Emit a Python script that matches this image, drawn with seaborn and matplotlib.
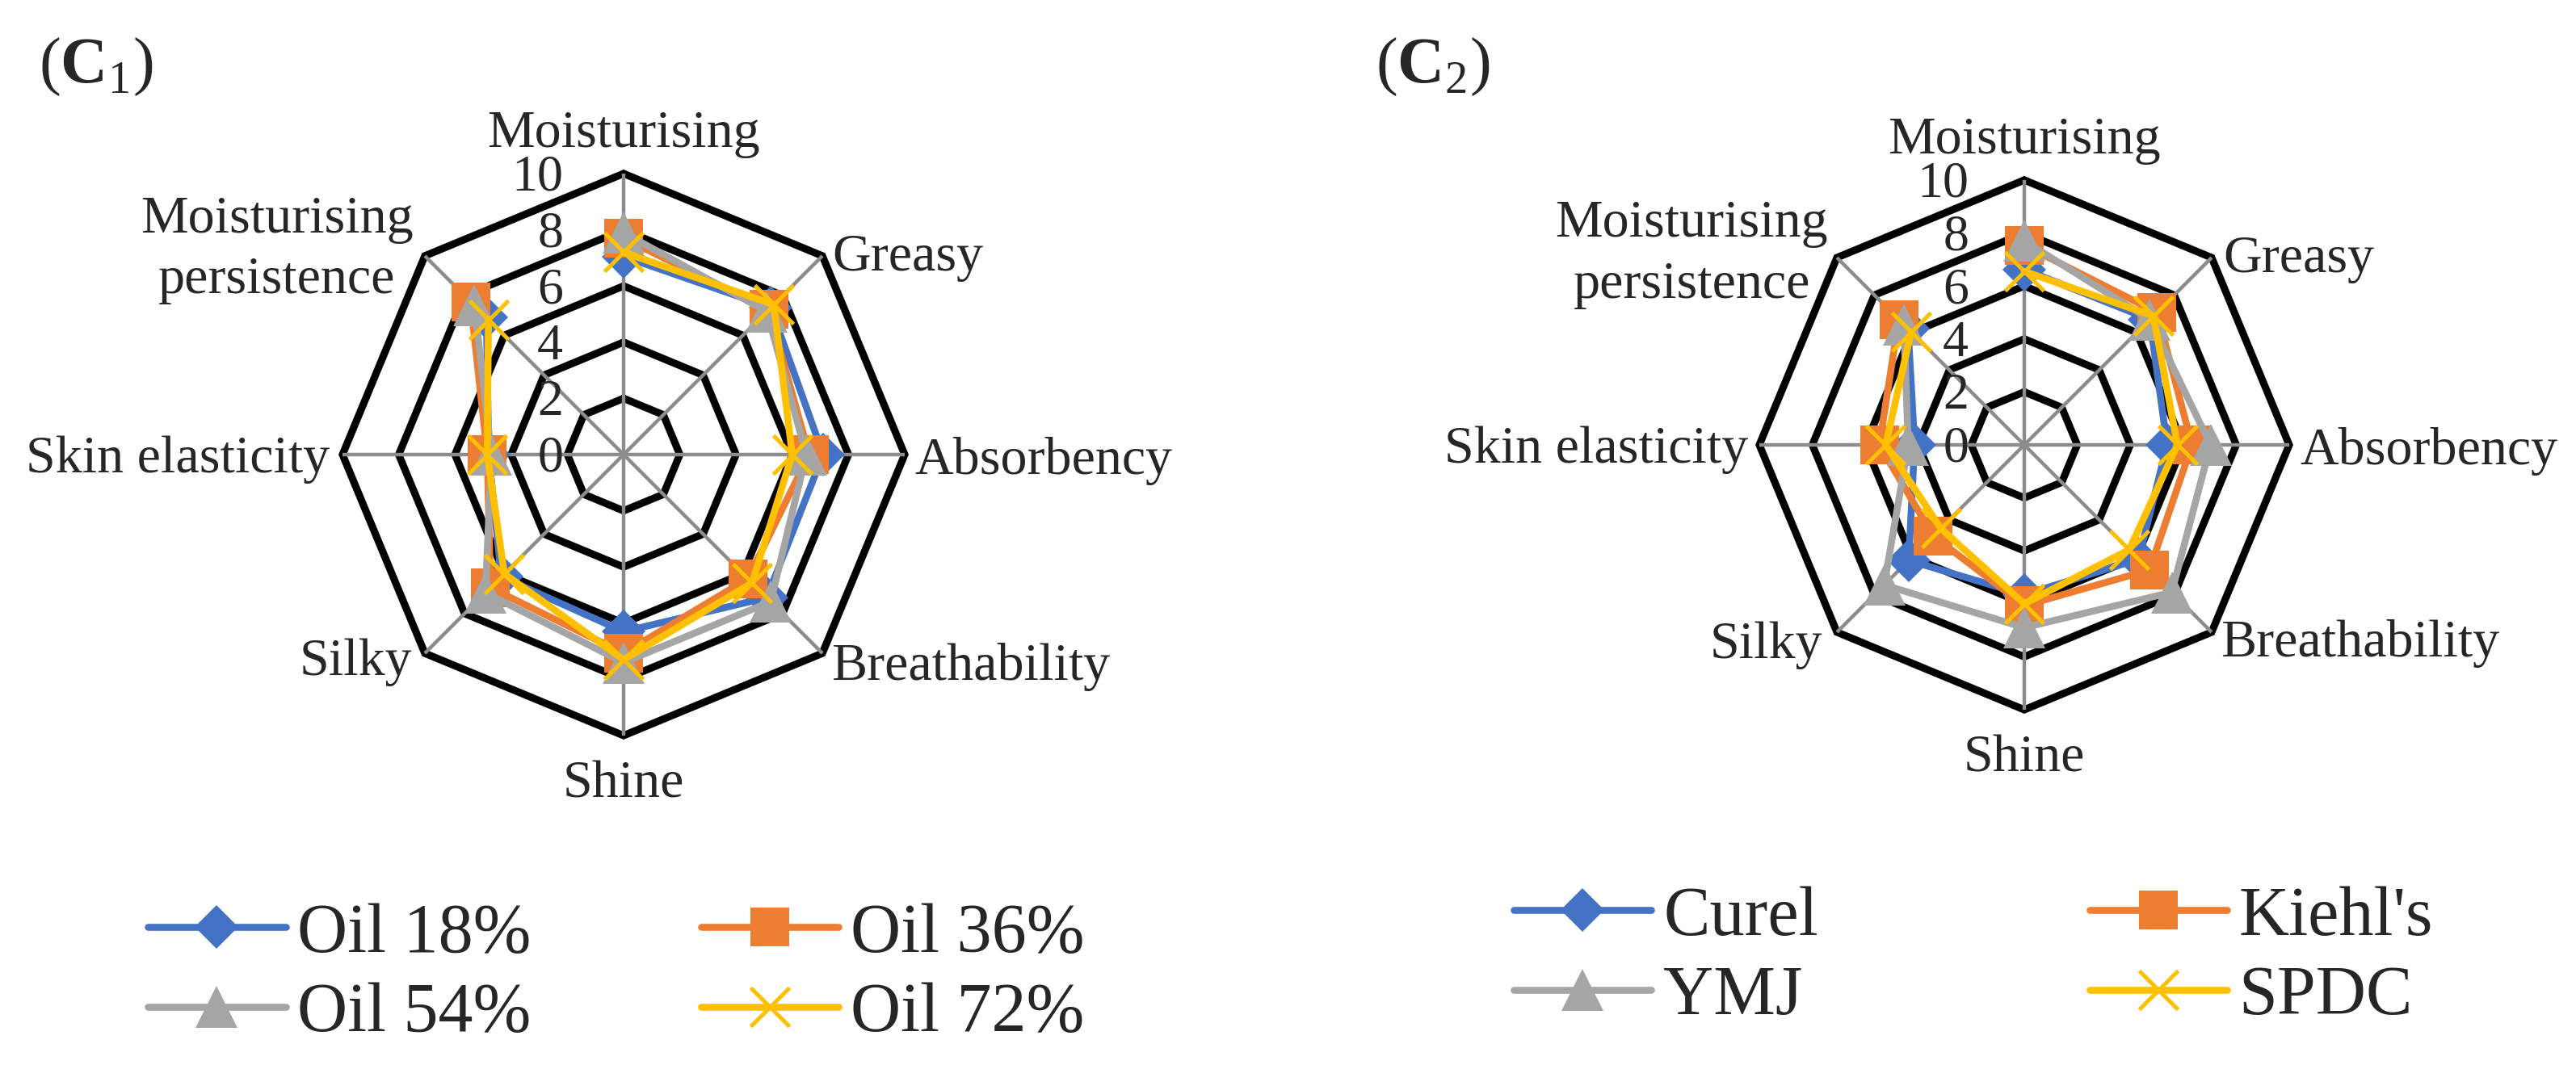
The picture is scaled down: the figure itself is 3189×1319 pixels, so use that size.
import numpy as np
import pandas as pd
import matplotlib
matplotlib.use("Agg")
import matplotlib.pyplot as plt
from matplotlib.font_manager import FontProperties
import seaborn as sns

# ---------------- data ----------------
categories = ["Moisturising", "Greasy", "Absorbency", "Breathability",
              "Shine", "Silky", "Skin elasticity", "Moisturising\npersistence"]
tick_values = [0, 2, 4, 6, 8, 10]

c1_names = ["Oil 18%", "Oil 36%", "Oil 54%", "Oil 72%"]
c1_oil18 = [7.05, 7.4, 7.1, 7.2, 6.3, 6.15, 4.8, 6.9]
c1_oil36 = [7.7, 7.3, 6.6, 6.25, 7.07, 6.7, 4.85, 7.7]
c1_oil54 = [7.9, 7.2, 6.5, 7.4, 7.4, 6.95, 4.7, 7.5]
c1_oil72 = [7.2, 7.55, 6.0, 6.46, 7.3, 6.0, 4.85, 6.8]

c2_names = ["Curel", "Kiehl's", "YMJ", "SPDC"]
c2_curel = [6.63, 6.7, 5.39, 6.1, 5.66, 6.17, 4.14, 6.2]
c2_kiehls = [7.54, 7.08, 6.33, 6.68, 6.07, 4.86, 5.47, 6.7]
c2_ymj = [7.7, 6.7, 7.03, 7.87, 6.9, 7.48, 4.38, 6.43]
c2_spdc = [6.55, 6.89, 5.78, 5.6, 6.0, 4.46, 5.23, 6.04]

colors = ["#4472C4", "#ED7D31", "#A5A5A5", "#FFC000"]
markers = ["D", "s", "^", "x"]
msizes = [27, 35, 38, 34]

# ---------------- style ----------------
sns.set_style("white")
SERIF = "Liberation Serif"
plt.rcParams["font.family"] = [SERIF, "DejaVu Serif"]
plt.rcParams["font.serif"] = [SERIF, "DejaVu Serif"]
plt.rcParams["mathtext.fontset"] = "custom"
plt.rcParams["mathtext.rm"] = SERIF
plt.rcParams["mathtext.bf"] = SERIF + ":bold"

W, H = 3189, 1319
fig = plt.figure(figsize=(W / 100, H / 100), dpi=100)

n = len(categories)
theta = np.linspace(0, 2 * np.pi, n, endpoint=False)
theta_c = np.append(theta, theta[0])

LAB_FS = 47.5
TICK_FS = 46


def make_radar(center, R, series, names, tick_dx, label_cfg):
    cx, cy = center
    ax = fig.add_axes([(cx - R) / W, 1 - (cy + R) / H, 2 * R / W, 2 * R / H],
                      projection="polar")
    ax.set_theta_offset(np.pi / 2)
    ax.set_theta_direction(-1)
    ax.grid(False)
    ax.spines["polar"].set_visible(False)
    ax.patch.set_alpha(0)

    # octagon rings
    for r in tick_values[1:]:
        ax.plot(theta_c, [r] * (n + 1), color="black", lw=6.6,
                solid_joinstyle="miter", zorder=1, clip_on=False)
    # spokes
    for t in theta:
        ax.plot([t, t], [0, 10], color="#8C8C8C", lw=3.2, zorder=1.5,
                clip_on=False, solid_capstyle="butt")

    # data series
    for i, (vals, name) in enumerate(zip(series, names)):
        df = pd.DataFrame({"theta": theta_c, "value": np.append(vals, vals[0])})
        kw = dict(marker=markers[i], markersize=msizes[i])
        if markers[i] == "x":
            kw.update(markeredgewidth=3.6, markeredgecolor=colors[i])
        else:
            kw.update(markeredgewidth=0)
        sns.lineplot(data=df, x="theta", y="value", ax=ax, sort=False,
                     color=colors[i], linewidth=6.2, label=name,
                     solid_capstyle="round", solid_joinstyle="round",
                     zorder=3 + i, clip_on=False, **kw)
    leg = ax.get_legend()
    if leg is not None:
        leg.remove()
    ax.set_xlabel("")
    ax.set_ylabel("")
    ax.set_ylim(0, 10)
    ax.set_xticks([])
    ax.set_yticks([])

    # radial tick labels
    for v in tick_values:
        ax.annotate(str(v), xy=(0, v), xytext=(tick_dx, -21),
                    textcoords="offset pixels", ha="right", va="baseline",
                    fontsize=TICK_FS, fontfamily=SERIF, annotation_clip=False)

    # category labels
    for t, lab, (dx, dy, ha) in zip(theta, categories, label_cfg):
        if "\n" in lab:
            for line, d in zip(lab.split("\n"), dy):
                ax.annotate(line, xy=(t, 10), xytext=(dx, -d),
                            textcoords="offset pixels", ha="center",
                            va="baseline", fontsize=LAB_FS, fontfamily=SERIF,
                            annotation_clip=False)
        else:
            ax.annotate(lab, xy=(t, 10), xytext=(dx, -dy),
                        textcoords="offset pixels", ha=ha, va="baseline",
                        fontsize=LAB_FS, fontfamily=SERIF,
                        annotation_clip=False)
    return ax


labels_left = [(0, -33, "center"), (12, 18, "left"), (12, 24, "left"),
               (11, 33, "left"), (0, 76, "center"), (-16, 27, "right"),
               (-16, 22, "right"), (-183, (-29, 46), "center")]
labels_right = [(0, -33, "center"), (14, 18, "left"), (13, 24, "left"),
                (11, 30, "left"), (0, 77, "center"), (-18, 32, "right"),
                (-14, 22, "right"), (-180, (-26, 50), "center")]

ax1 = make_radar((772, 563), 348, [c1_oil18, c1_oil36, c1_oil54, c1_oil72],
                 c1_names, -75, labels_left)
ax2 = make_radar((2506, 551), 328, [c2_curel, c2_kiehls, c2_ymj, c2_spdc],
                 c2_names, -69, labels_right)

# panel letters
fig.text(48 / W, 1 - 83 / H, r"$(\mathbf{C}_{1})$", fontsize=58,
         ha="left", va="center")
fig.text(1703 / W, 1 - 83 / H, r"$(\mathbf{C}_{2})$", fontsize=58,
         ha="left", va="center")

# legends (order: column-wise to match 2x2 layout)
order = [0, 2, 1, 3]
leg_prop = FontProperties(family=SERIF, size=62)
for ax, x0, yc, cs in [(ax1, 183, 1207, 2.44), (ax2, 1874, 1186, 3.9)]:
    h, l = ax.get_legend_handles_labels()
    h = [h[i] for i in order]
    l = [l[i] for i in order]
    fig.legend(h, l, ncol=2, loc="center left",
               bbox_to_anchor=(x0 / W, 1 - yc / H), frameon=False,
               prop=leg_prop, handlelength=1.98, handletextpad=0.17,
               columnspacing=cs, labelspacing=0.22, borderpad=0,
               borderaxespad=0)

fig.savefig("out.png", dpi=100, facecolor="white")
